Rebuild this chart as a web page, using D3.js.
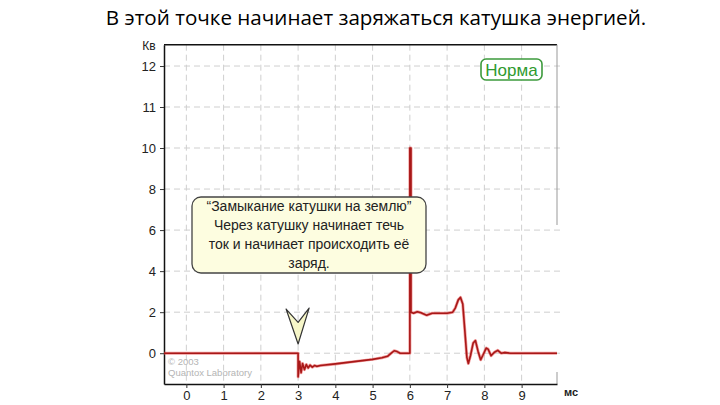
<!DOCTYPE html>
<html><head><meta charset="utf-8">
<script src="https://cdn.jsdelivr.net/npm/d3@7"></script>
<style>body{margin:0;background:#fff}svg{display:block}</style>
</head><body>
<svg id="c" width="720" height="405"></svg>
<script>
const titleText = "В этой точке начинает заряжаться катушка энергией.";
const yUnit = "Кв";
const xUnit = "мс";
const xTicks = [0,1,2,3,4,5,6,7,8,9];
const yTicks = [0,2,4,6,8,10,11,12];
const sigT = [-0.6,3.0,3.0,3.04,3.08,3.12,3.17,3.22,3.27,3.32,3.38,3.44,3.5,3.6,4.0,4.5,5.0,5.25,5.4,5.5,5.58,5.66,5.74,5.85,6.0,6.0,6.03,6.03,6.1,6.2,6.3,6.45,6.6,6.8,7.0,7.15,7.22,7.3,7.36,7.42,7.48,7.53,7.57,7.63,7.7,7.76,7.83,7.9,7.96,8.05,8.1,8.18,8.27,8.36,8.45,8.55,8.7,9.95];
const sigV = [0,0,-1.15,-0.4,-0.95,-0.5,-0.8,-0.55,-0.72,-0.58,-0.68,-0.6,-0.64,-0.6,-0.52,-0.41,-0.3,-0.22,-0.15,0.0,0.12,0.08,0.0,0.0,0.0,10.0,10.0,2.0,1.95,2.02,1.97,1.85,1.95,1.95,1.95,2.0,2.2,2.6,2.72,2.4,1.0,-0.2,-0.5,-0.1,0.5,0.62,0.1,-0.32,-0.1,0.25,0.2,-0.12,0.05,0.14,0.0,0.03,0.0,0.0];
const noteLines = ["“Замыкание катушки на землю”","Через  катушку начинает течь","ток и начинает происходить её","заряд."];
const badgeText = "Норма";
const copyLines = ["© 2003","Quantox Laboratory"];

const svg = d3.select("#c");
const x = d3.scaleLinear().domain([-0.6,9.95]).range([164,557]);
const y = d3.scaleLinear().domain([-1.5,10,12.52]).range([384,148,44.7]);

svg.append("text").attr("x",376).attr("y",25).attr("text-anchor","middle")
  .attr("font-family","'Open Sans', sans-serif").attr("font-size",20.6).attr("fill","#000").text(titleText);

// grid
const g = svg.append("g");
g.selectAll(".vg").data(xTicks).join("line")
  .attr("x1",d=>x(d)).attr("x2",d=>x(d)).attr("y1",y.range()[2]).attr("y2",y.range()[0])
  .attr("stroke","#cfcfcf").attr("stroke-dasharray","6,4");
g.selectAll(".hg").data(yTicks).join("line")
  .attr("x1",164).attr("x2",560).attr("y1",d=>y(d)).attr("y2",d=>y(d))
  .attr("stroke","#cfcfcf").attr("stroke-dasharray","6,4");

// frame
svg.append("line").attr("x1",164).attr("x2",557).attr("y1",44.7).attr("y2",44.7).attr("stroke","#111").attr("stroke-width",1.5);
svg.append("line").attr("x1",557).attr("x2",557).attr("y1",44.7).attr("y2",225).attr("stroke","#999");
svg.append("line").attr("x1",557).attr("x2",557).attr("y1",372).attr("y2",384).attr("stroke","#999");

const axL = svg.append("g").attr("transform","translate(164,0)")
  .call(d3.axisLeft(y).tickValues(yTicks).tickSizeInner(4).tickSizeOuter(0).tickPadding(4).tickFormat(d3.format("d")));
const axB = svg.append("g").attr("transform","translate(0,384)")
  .call(d3.axisBottom(x).tickValues(xTicks).tickSizeInner(4).tickSizeOuter(0).tickPadding(3).tickFormat(d3.format("d")));
[axL,axB].forEach(a=>{
  a.select(".domain").attr("stroke","#111").attr("stroke-width",1.5);
  a.selectAll("text").attr("font-family","'Liberation Sans', Arial, sans-serif").attr("font-size",13).attr("fill","#222");
  a.selectAll(".tick line").attr("stroke","#333");
});
svg.append("text").attr("x",149).attr("y",50).attr("text-anchor","middle")
  .attr("font-family","'Liberation Sans', Arial, sans-serif").attr("font-size",12).attr("fill","#222").text(yUnit);
svg.append("text").attr("x",571).attr("y",396).attr("text-anchor","middle")
  .attr("font-family","'Liberation Sans', Arial, sans-serif").attr("font-size",11).attr("font-weight","bold").attr("fill","#222").text(xUnit);

// copyright
svg.selectAll(".cp").data(copyLines).join("text")
  .attr("x",168).attr("y",(d,i)=>365+i*11).attr("font-family","'Liberation Sans', Arial, sans-serif")
  .attr("font-size",9.5).attr("fill","#b4b4b4").text(d=>d);

// signal
const pts = sigT.map((t,i)=>[t,sigV[i]]);
const lineL = d3.line().x(d=>x(d[0])).y(d=>y(d[1]));
svg.append("path").attr("d",lineL(pts)).attr("fill","none").attr("stroke","#e84a4a").attr("stroke-width",3).attr("stroke-opacity",0.55).attr("stroke-linejoin","round");
svg.append("path").attr("d",lineL(pts)).attr("fill","none").attr("stroke","#a81818").attr("stroke-width",1.6).attr("stroke-linejoin","round");

// note box
const nb = svg.append("g");
nb.append("rect").attr("x",192).attr("y",197).attr("width",234).attr("height",76).attr("rx",9)
  .attr("fill","#fdfde0").attr("stroke","#444").attr("stroke-width",1.3);
nb.selectAll("text").data(noteLines).join("text").attr("x",309).attr("y",(d,i)=>211+i*19)
  .attr("text-anchor","middle").attr("font-family","'Liberation Sans', Arial, sans-serif").attr("font-size",14)
  .attr("fill","#222").text(d=>d);

// arrow marker at t=3
const ax = x(3);
const aTop = y(2.2), aNotch = y(1.5), aTip = y(0.45);
svg.append("path").attr("d",`M${ax-12},${aTop+1} L${ax},${aNotch} L${ax+11},${aTop} L${ax},${aTip} Z`)
  .attr("fill","#f6f6c8").attr("stroke","#333").attr("stroke-width",1.2).attr("stroke-linejoin","round");

// badge
svg.append("rect").attr("x",481).attr("y",59).attr("width",61).attr("height",21).attr("rx",5)
  .attr("fill","#fff").attr("stroke","#3c9a3c").attr("stroke-width",1.6);
svg.append("text").attr("x",511.5).attr("y",76).attr("text-anchor","middle")
  .attr("font-family","'Liberation Sans', Arial, sans-serif").attr("font-size",17).attr("fill","#2f9a2f").text(badgeText);
</script>
</body></html>
